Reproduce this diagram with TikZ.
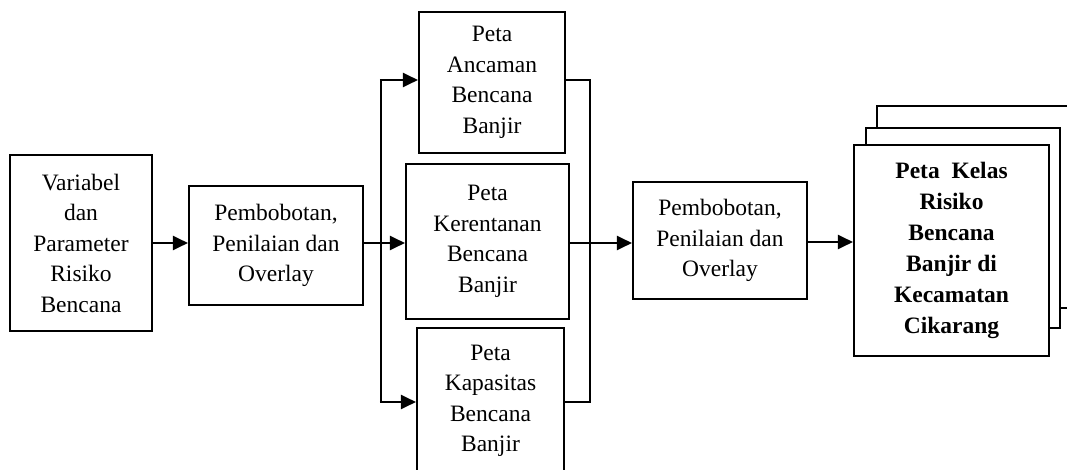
\documentclass[tikz,border=0pt]{standalone}
\usepackage{fontspec}
\setmainfont{Liberation Serif}
\usetikzlibrary{arrows.meta}
\begin{document}
\begin{tikzpicture}[x=1pt,y=-1pt,
  box/.style={draw,line width=2.1pt,fill=white,align=center,inner sep=0pt,
    font=\fontsize{23.5}{30.5}\selectfont},
  conn/.style={line width=2.1pt},
  arr/.style={conn,-{Triangle[length=15pt,width=14pt]}}]
\clip (0,0) rectangle (1067,470);
\useasboundingbox (0,0) rectangle (1067,470);
% nodes
\node[box,minimum width=142pt,minimum height=176pt] (v) at (81,243) {Variabel\\dan\\Parameter\\Risiko\\Bencana};
\node[box,minimum width=174pt,minimum height=119pt] (p1) at (276,245.5) {Pembobotan,\\Penilaian dan\\Overlay};
\node[box,minimum width=146pt,minimum height=141pt] (a) at (492,82.5) {Peta\\Ancaman\\Bencana\\Banjir};
\node[box,minimum width=163pt,minimum height=155pt] (k) at (487.5,241.5) {Peta\\Kerentanan\\Bencana\\Banjir};
\node[box,minimum width=147pt,minimum height=146pt] (c) at (490.5,401) {Peta\\Kapasitas\\Bencana\\Banjir};
\node[box,minimum width=174pt,minimum height=117pt] (p2) at (720,240.5) {Pembobotan,\\Penilaian dan\\Overlay};
% stacked pages
\draw[line width=2.1pt,fill=white] (877,106) rectangle (1085,308);
\draw[line width=2.1pt,fill=white] (866,128) rectangle (1060,328);
\node[box,minimum width=195pt,minimum height=211pt,font=\fontsize{23.5}{31}\selectfont\bfseries] (r) at (951.5,250.5) {Peta\ \ Kelas\\Risiko\\Bencana\\Banjir di\\Kecamatan\\Cikarang};
% bus coordinates
\coordinate (bl) at (381,243);
\coordinate (blt) at (381,80);
\coordinate (blb) at (381,402);
\coordinate (br) at (590,243);
\coordinate (brt) at (590,80);
\coordinate (brb) at (590,402);
% connectors
\draw[arr] (v.east |- 0,243) -- (p1.west |- 0,243);
\draw[conn] (p1.east |- bl) -- (bl);
\draw[conn] (blt) -- (blb);
\draw[arr] (bl) -- (k.west |- bl);
\draw[arr] ([xshift=-1.05pt]blt) -- (a.west |- blt);
\draw[arr] ([xshift=-1.05pt]blb) -- (c.west |- blb);
\draw[conn] (a.east |- brt) -- ([xshift=1.05pt]brt);
\draw[conn] (c.east |- brb) -- ([xshift=1.05pt]brb);
\draw[conn] (brt) -- (brb);
\draw[conn] (k.east |- br) -- (br);
\draw[arr] (br) -- (p2.west |- br);
\draw[arr] (p2.east |- 0,242) -- (r.west |- 0,242);
\end{tikzpicture}
\end{document}
